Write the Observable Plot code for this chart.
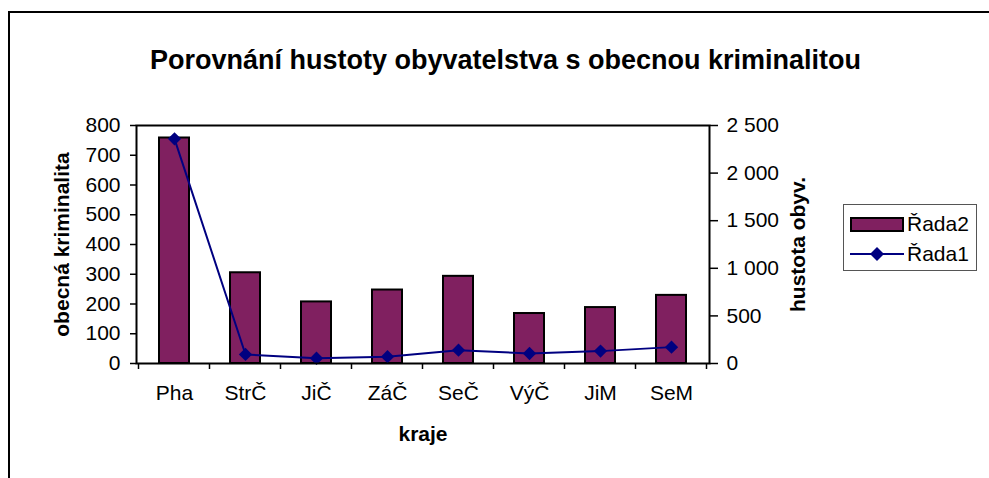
<!DOCTYPE html>
<html>
<head>
<meta charset="utf-8">
<script src="https://cdn.jsdelivr.net/npm/d3@7"></script>
<script src="https://cdn.jsdelivr.net/npm/@observablehq/plot@0.6"></script>
<style>
  body { margin: 0; background: #fff; font-family: "Liberation Sans", Arial, sans-serif; }
  #wrap { position: relative; width: 989px; height: 478px; overflow: hidden; }
  #frame { position: absolute; left: 8px; top: 11px; width: 1000px; height: 500px;
           border-left: 2px solid #000; border-top: 2px solid #000; }
  #title { height: 100px; line-height: 120px; text-align: center; font-weight: bold;
           font-size: 27px; padding-left: 22px; box-sizing: border-box; color: #000; white-space: nowrap; }
  #legend { position: absolute; left: 843px; top: 204px; width: 134px; height: 67px;
            border: 1px solid #555; box-sizing: border-box; background: #fff; font-size: 21px; }
  .row { position: absolute; left: 6px; display: flex; align-items: center; }
  .sw { width: 50px; height: 11px; background: #802060; border: 2px solid #000; }
  .lab { margin-left: 3px; }
  svg { display: block; }
</style>
</head>
<body>
<div id="wrap">
  <div id="frame"></div>
  <div id="title">Porovnání hustoty obyvatelstva s obecnou kriminalitou</div>
  <div id="chart"></div>
  <div id="legend">
    <div class="row" style="top:7px"><div class="sw"></div><span class="lab">Řada2</span></div>
    <div class="row" style="top:37px">
      <svg width="54" height="22"><line x1="0" y1="11" x2="54" y2="11" stroke="#000080" stroke-width="2"/><path d="M27,4L34,11L27,18L20,11Z" fill="#000080"/></svg>
      <span class="lab">Řada1</span></div>
  </div>
</div>
<script>
const categories = ["Pha", "StrČ", "JiČ", "ZáČ", "SeČ", "VýČ", "JiM", "SeM"];
const kriminalita = [758, 305, 207, 247, 293, 168, 188, 229];   // Řada2 (left axis)
const hustota = [2360, 95, 55, 72, 140, 105, 130, 172];          // Řada1 (right axis)
const leftTicks = [0, 100, 200, 300, 400, 500, 600, 700, 800];
const rightTicks = [0, 500, 1000, 1500, 2000, 2500];
const leftMax = 800, rightMax = 2500;

const data = categories.map((c, i) => ({cat: c, krim: kriminalita[i], hust: hustota[i]}));
const toLeft = v => v * leftMax / rightMax;
const fmtSpace = v => d3.format(",")(v).replace(/,/g, " ");

const plot = Plot.plot({
  width: 989,
  height: 378,
  marginLeft: 136,
  marginRight: 280,
  marginTop: 25,
  marginBottom: 115,
  style: {fontFamily: "Liberation Sans, Arial, sans-serif", fontSize: "21px", color: "#000", background: "#fff"},
  x: {domain: categories, paddingInner: 0.58, paddingOuter: 0.29, axis: null},
  y: {domain: [0, leftMax], axis: null},
  marks: [
    Plot.barY(data, {x: "cat", y: "krim", fill: "#802060", stroke: "#000", strokeWidth: 2}),
    Plot.line(data, {x: "cat", y: d => toLeft(d.hust), stroke: "#000080", strokeWidth: 2}),
    Plot.dot(data, {x: "cat", y: d => toLeft(d.hust), symbol: "diamond2", r: 6, fill: "#000080", stroke: "none"}),
    Plot.frame({stroke: "#000", strokeWidth: 2}),
    Plot.axisY(leftTicks, {anchor: "left", tickSize: 6, tickPadding: 10, strokeWidth: 1.5, label: null, fontSize: 21}),
    Plot.axisY(rightTicks.map(toLeft), {anchor: "right", tickSize: 8, tickPadding: 9, strokeWidth: 1.5, label: null, fontSize: 21,
      tickFormat: d => fmtSpace(Math.round(d * rightMax / leftMax))}),
    Plot.axisX({anchor: "bottom", tickSize: 0, tickPadding: 22, label: null, fontSize: 21}),
    Plot.text(["kraje"], {frameAnchor: "bottom", dy: 77, fontWeight: "bold", fontSize: 21}),
    Plot.text(["obecná kriminalita"], {frameAnchor: "left", dx: -74, rotate: -90, textAnchor: "middle", fontWeight: "bold", fontSize: 21}),
    Plot.text(["hustota obyv."], {frameAnchor: "right", dx: 89, rotate: -90, textAnchor: "middle", fontWeight: "bold", fontSize: 21})
  ]
});
document.getElementById("chart").appendChild(plot);

// category boundary ticks below the x axis, placed with Plot's own x scale
const xs = plot.scale("x");
const ys = plot.scale("y");
const y0 = ys.apply(0);
const bounds = categories.map(c => xs.apply(c) - (xs.step - xs.bandwidth) / 2);
bounds.push(bounds[bounds.length - 1] + xs.step);
d3.select(plot).append("g")
  .selectAll("line").data(bounds).join("line")
  .attr("x1", d => d).attr("x2", d => d)
  .attr("y1", y0).attr("y2", y0 + 6)
  .attr("stroke", "#000").attr("stroke-width", 1.5);
</script>
</body>
</html>
